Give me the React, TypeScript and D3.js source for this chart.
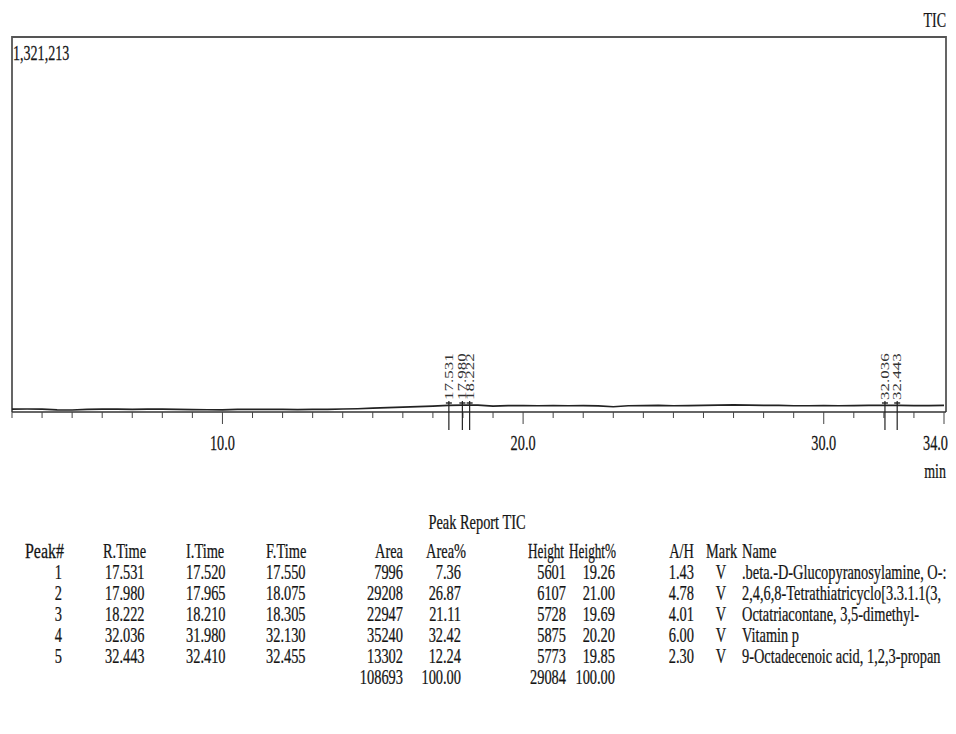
import React from "react";
import * as d3 from "d3";

// ---- Chromatogram (TIC) ----
const signalTimes = [3, 3.5, 4, 4.5, 5, 5.5, 6, 6.5, 7, 7.5, 8, 8.5, 9, 9.5, 10, 10.5, 11, 11.5, 12, 12.5, 13, 13.5, 14, 14.5, 15, 15.5, 16, 16.5, 17, 17.5, 18, 18.5, 19, 19.5, 20, 20.5, 21, 21.5, 22, 22.5, 23, 23.5, 24, 24.5, 25, 25.5, 26, 26.5, 27, 27.5, 28, 28.5, 29, 29.5, 30, 30.5, 31, 31.5, 32, 32.5, 33, 33.5, 34];
const signalValues = [10000, 10500, 10000, 7500, 7000, 9500, 10000, 10000, 9500, 10000, 10000, 9000, 8500, 8000, 7500, 9500, 9500, 9000, 9000, 8500, 9500, 9000, 10500, 11500, 13500, 15500, 17500, 19000, 21000, 23500, 24500, 24000, 21000, 22500, 22500, 22000, 22500, 22000, 22500, 21500, 18500, 22000, 22500, 23000, 22000, 22500, 23500, 24000, 25000, 24000, 23500, 23000, 22000, 22000, 22500, 22000, 22500, 23000, 23500, 23000, 22500, 22500, 23000];
const fullScale = 1321213;
const majorTicks = [10, 20, 30, 34];
const minorTicks = d3.range(3, 35, 1);

// ---- Peak report ----
const peakNo = ["1", "2", "3", "4", "5"];
const rTime = ["17.531", "17.980", "18.222", "32.036", "32.443"];
const iTime = ["17.520", "17.965", "18.210", "31.980", "32.410"];
const fTime = ["17.550", "18.075", "18.305", "32.130", "32.455"];
const area = ["7996", "29208", "22947", "35240", "13302"];
const areaPct = ["7.36", "26.87", "21.11", "32.42", "12.24"];
const heightV = ["5601", "6107", "5728", "5875", "5773"];
const heightPct = ["19.26", "21.00", "19.69", "20.20", "19.85"];
const ah = ["1.43", "4.78", "4.01", "6.00", "2.30"];
const mark = ["V", "V", "V", "V", "V"];
const names = [
  ".beta.-D-Glucopyranosylamine, O-:",
  "2,4,6,8-Tetrathiatricyclo[3.3.1.1(3,",
  "Octatriacontane, 3,5-dimethyl-",
  "Vitamin p",
  "9-Octadecenoic acid, 1,2,3-propan",
];
const totals = { area: "108693", areaPct: "100.00", height: "29084", heightPct: "100.00" };

const FONT = "'Liberation Serif', 'Times New Roman', serif";
const SX = 0.72;

function T({ x, y, anchor = "start", size = 20, sx = SX, children }: any) {
  return (
    <text
      transform={`translate(${x},${y}) scale(${sx},1)`}
      textAnchor={anchor}
      fontSize={size}
      fontFamily={FONT}
      fill="#151515"
      stroke="#151515"
      strokeWidth={0.25}
    >
      {children}
    </text>
  );
}

export default function App() {
  const W = 956, H = 734;
  const left = 12, right = 946, top = 37, axisY = 412;
  const x = d3.scaleLinear().domain([3, 34]).range([left, right - 2]);
  const y = d3.scaleLinear().domain([0, fullScale]).range([axisY, top]);
  const pts = signalTimes.map((t, i) => [t, signalValues[i]] as [number, number]);
  const line = d3.line<[number, number]>().x((d) => x(d[0])).y((d) => y(d[1]));

  const rowY0 = 579, rowDY = 21;
  const headerY = 558;

  return (
    <svg width={W} height={H} style={{ position: "absolute", left: 0, top: 0, background: "#fff" }}>
      <rect width={W} height={H} fill="#fff" />
      {/* frame */}
      <path d={`M${left},${axisY} V${top} H${right} V${axisY}`} fill="none" stroke="#555" strokeWidth={1.8} />
      <line x1={left} x2={right} y1={axisY} y2={axisY} stroke="#333" strokeWidth={1.4} />
      {/* ticks */}
      {minorTicks.map((t) => (
        <line key={"m" + t} x1={x(t)} x2={x(t)} y1={axisY} y2={axisY + (majorTicks.includes(t) ? 12 : 6)} stroke="#444" strokeWidth={1} />
      ))}
      {majorTicks.map((t) => (
        <T key={"l" + t} x={t === 34 ? right + 2 : x(t)} y={450} anchor={t === 34 ? "end" : "middle"} size={21} sx={0.68}>
          {t.toFixed(1)}
        </T>
      ))}
      <T x={right} y={478} anchor="end" size={20} sx={0.7}>min</T>
      <T x={right} y={27} anchor="end" size={20} sx={0.7}>TIC</T>
      <T x={13} y={60} size={22} sx={0.64}>1,321,213</T>
      {/* signal */}
      <path d={line(pts) || ""} fill="none" stroke="#222" strokeWidth={1.7} />
      {/* peak markers */}
      {rTime.map((r, i) => {
        const px = x(+r);
        return (
          <g key={"p" + i}>
            <line x1={px} x2={px} y1={401} y2={430} stroke="#222" strokeWidth={1.2} />
            <line x1={px - 3} x2={px + 3} y1={403} y2={403} stroke="#222" strokeWidth={1.4} />
            <text
              transform={`translate(${px + 4},400) rotate(-90) scale(1,0.72)`}
              fontSize={17}
              fontFamily={FONT}
              fill="#333"
            >
              {r}
            </text>
          </g>
        );
      })}
      {/* peak report table */}
      <T x={477} y={529} anchor="middle">Peak Report TIC</T>
      <T x={64} y={headerY} anchor="end" sx={0.8}>Peak#</T>
      <T x={103} y={headerY}>R.Time</T>
      <T x={186} y={headerY}>I.Time</T>
      <T x={266} y={headerY}>F.Time</T>
      <T x={403} y={headerY} anchor="end">Area</T>
      <T x={466} y={headerY} anchor="end">Area%</T>
      <T x={564} y={headerY} anchor="end" sx={0.66}>Height</T>
      <T x={616} y={headerY} anchor="end" sx={0.66}>Height%</T>
      <T x={694} y={headerY} anchor="end">A/H</T>
      <T x={706} y={headerY}>Mark</T>
      <T x={742} y={headerY}>Name</T>
      {peakNo.map((p, i) => {
        const ry = rowY0 + i * rowDY;
        return (
          <g key={"r" + i}>
            <T x={62} y={ry} anchor="end">{p}</T>
            <T x={105} y={ry}>{rTime[i]}</T>
            <T x={186} y={ry}>{iTime[i]}</T>
            <T x={266} y={ry}>{fTime[i]}</T>
            <T x={403} y={ry} anchor="end">{area[i]}</T>
            <T x={461} y={ry} anchor="end">{areaPct[i]}</T>
            <T x={566} y={ry} anchor="end">{heightV[i]}</T>
            <T x={615} y={ry} anchor="end">{heightPct[i]}</T>
            <T x={694} y={ry} anchor="end">{ah[i]}</T>
            <T x={721} y={ry} anchor="middle">{mark[i]}</T>
            <T x={742} y={ry} sx={0.72}>{names[i]}</T>
          </g>
        );
      })}
      <T x={403} y={rowY0 + 5 * rowDY} anchor="end">{totals.area}</T>
      <T x={461} y={rowY0 + 5 * rowDY} anchor="end">{totals.areaPct}</T>
      <T x={566} y={rowY0 + 5 * rowDY} anchor="end">{totals.height}</T>
      <T x={615} y={rowY0 + 5 * rowDY} anchor="end">{totals.heightPct}</T>
    </svg>
  );
}
